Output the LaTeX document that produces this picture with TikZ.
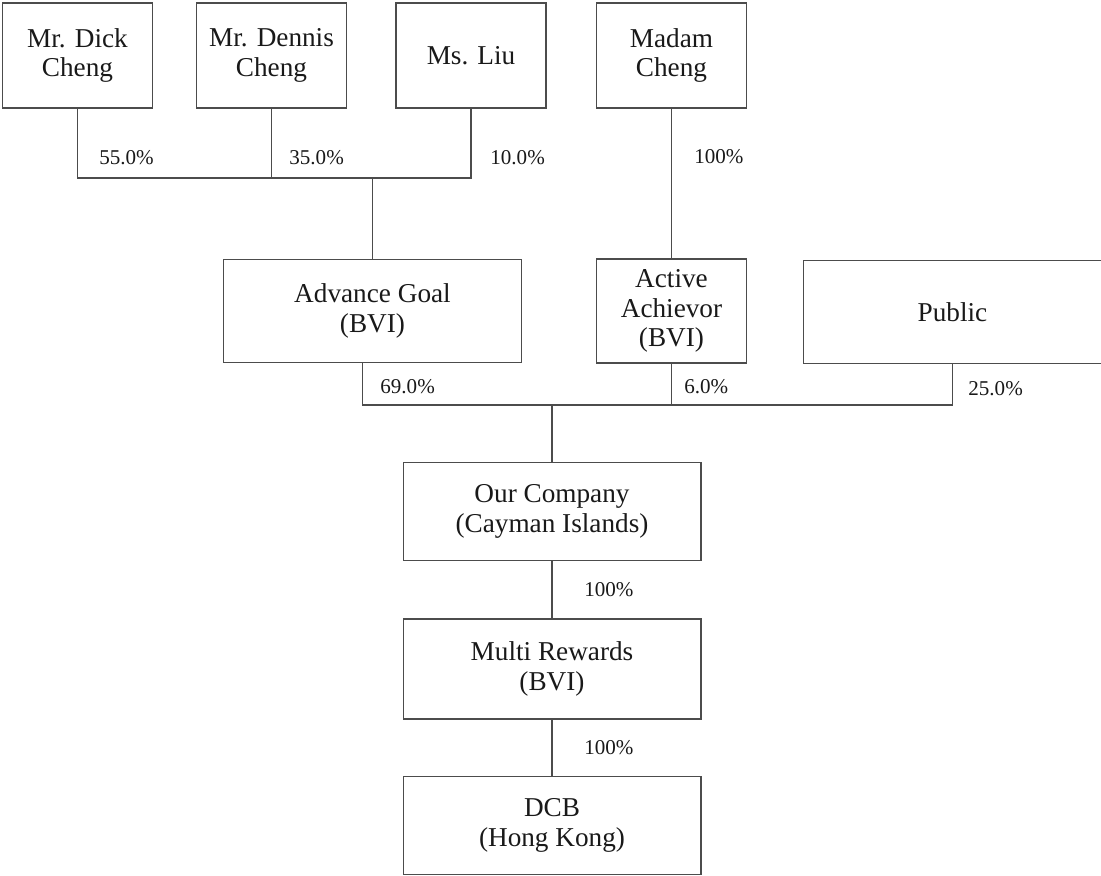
\documentclass[tikz,border=0pt]{standalone}
\usepackage{fontspec}
\setmainfont{Liberation Serif}
\usetikzlibrary{positioning}
\tikzset{basic/.style={draw=black!70,line width=0.6pt,text=black!90,
                       align=center,inner sep=0pt,
                       font=\fontsize{15.5}{17}\selectfont}}
\tikzset{owner/.style={basic,minimum width=3cm,minimum height=2.1cm}}
\tikzset{entity/.style={basic,minimum width=5.95cm,minimum height=2.06cm}}
\tikzset{sub/.style={basic,minimum width=5.96cm,minimum height=1.96cm}}
\tikzset{pct/.style={anchor=west,inner sep=0pt,text=black!90,
                     font=\fontsize{12}{14}\selectfont}}
\tikzset{link/.style={draw=black!70,line width=0.6pt}}

\begin{document}
\begin{tikzpicture}[x=0.02cm,y=-0.02cm]
    \useasboundingbox (0,0) rectangle (1101,875);

    % shareholders
    \node[owner] (dick) at (77.5,55.5) {Mr. Dick\\Cheng};
    \node[owner] (dennis) at (271.5,55.5) {Mr. Dennis\\Cheng};
    \node[owner] (liu) at (471,55.5) {Ms. Liu};
    \node[owner] (madam) at (671.5,55.5) {Madam\\Cheng};

    % holding companies
    \node[entity] (goal) at (372.5,311) {Advance Goal\\(BVI)};
    \node[owner,minimum height=2.08cm] (achievor) at (671.5,311) {Active\\Achievor\\(BVI)};
    \node[entity] (public) at (952.5,312) {Public};

    % group
    \node[sub] (company) at (552,511.5) {Our Company\\(Cayman Islands)};
    \node[sub,minimum height=2cm] (rewards) at (552,669) {Multi Rewards\\(BVI)};
    \node[sub] (dcb) at (552,825.5) {DCB\\(Hong Kong)};

    \coordinate (jointop) at (372.5,178);
    \coordinate (joinmid) at (552,405);

    \draw[link] (dick.south) |- (liu.south |- jointop) -- (liu.south);
    \draw[link] (dennis.south) -- (dennis.south |- jointop);
    \draw[link] (goal.north |- jointop) -- (goal.north);
    \draw[link] (madam.south) -- (achievor.north);

    \draw[link] ([xshift=-0.2cm]goal.south) |- (public.south |- joinmid) -- (public.south);
    \draw[link] (achievor.south) -- (achievor.south |- joinmid);
    \draw[link] (company.north |- joinmid) -- (company.north);
    \draw[link] (company.south) -- (rewards.north);
    \draw[link] (rewards.south) -- (dcb.north);

    % percentages
    \node[pct] (pdick) at (99,158) {55.0\%};
    \node[pct] (pdennis) at (289,158) {35.0\%};
    \node[pct] (pliu) at (490,158) {10.0\%};
    \node[pct] (pmadam) at (694,157) {100\%};
    \node[pct] (pgoal) at (380,387) {69.0\%};
    \node[pct] (pachievor) at (684,387) {6.0\%};
    \node[pct] (ppublic) at (968,389) {25.0\%};
    \node[pct] (pcompany) at (584,590) {100\%};
    \node[pct] (prewards) at (584,748) {100\%};
\end{tikzpicture}
\end{document}
